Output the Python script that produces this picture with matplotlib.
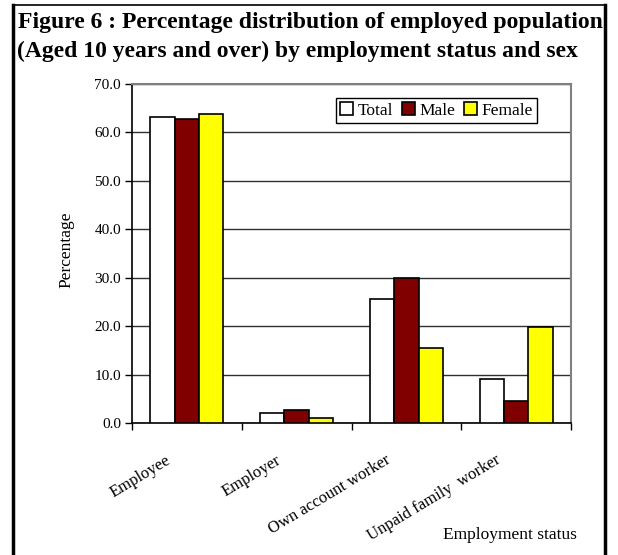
import matplotlib.pyplot as plt
import matplotlib.transforms as mtransforms
from matplotlib.lines import Line2D
import numpy as np

plt.rcParams['font.family'] = ['Liberation Serif', 'DejaVu Serif']

status = ["Employee", "Employer", "Own account worker", "Unpaid family  worker"]
total = [63.2, 2.0, 25.6, 9.1]
male = [62.8, 2.7, 30.0, 4.6]
female = [63.9, 1.0, 15.5, 19.8]

series = [("Total", total, "#FFFFFF"),
          ("Male", male, "#800000"),
          ("Female", female, "#FFFF00")]

fig = plt.figure(figsize=(6.18, 5.55), dpi=100)
ax = fig.add_axes([0.2136, 0.2378, 0.7104, 0.6108])

x = np.arange(len(status))
w = 1 / 4.5
for i, (name, vals, col) in enumerate(series):
    ax.bar(x + (i - 1) * w, vals, w, color=col, edgecolor="black",
           linewidth=1.2, label=name, zorder=3)

ax.set_xlim(-0.5, 3.5)
ax.set_ylim(0, 70)
ax.set_yticks(np.arange(0, 71, 10))
ax.set_yticklabels([f"{v:.1f}" for v in np.arange(0, 71, 10)], fontsize=11)
ax.yaxis.grid(True, color="#303030", linewidth=1)
ax.set_axisbelow(True)
ax.tick_params(axis="y", direction="out", length=5, width=1, pad=3)

# category separators as ticks, labels drawn separately
ax.set_xticks(np.arange(-0.5, 4, 1))
ax.set_xticklabels([])
ax.tick_params(axis="x", direction="out", length=5, width=1)

offset = mtransforms.ScaledTranslation(-13 / 100, -29 / 100, fig.dpi_scale_trans)
trans = ax.get_xaxis_transform() + offset
for xi, lab in zip(x, status):
    ax.text(xi, 0, lab, rotation=31, ha="right", va="top", fontsize=12,
            transform=trans)

for s in ("top", "right"):
    ax.spines[s].set_color("#808080")
    ax.spines[s].set_linewidth(1.5)
for s in ("left", "bottom"):
    ax.spines[s].set_linewidth(1.2)

ax.set_ylabel("Percentage", fontsize=12.5)
ax.yaxis.set_label_coords(-0.13, 0.51)

fig.text(577 / 618, 1 - 535 / 555, "Employment status", fontsize=12.5,
         ha="right", va="center")

leg = ax.legend(ncol=3, loc="upper left", bbox_to_anchor=(336 / 618, 1 - 98 / 555),
                bbox_transform=fig.transFigure, fontsize=12.5, frameon=True,
                fancybox=False, edgecolor="black", framealpha=1,
                handlelength=0.75, handleheight=0.75, handletextpad=0.25,
                columnspacing=0.5, borderpad=0.25, borderaxespad=0)
leg.get_frame().set_linewidth(1)

fig.text(18 / 618, 1 - 28 / 555, "Figure 6 : Percentage distribution of employed population",
         fontsize=17, fontweight="bold", ha="left", va="baseline")
fig.text(17 / 618, 1 - 57 / 555, "(Aged 10 years and over) by employment status and sex",
         fontsize=17, fontweight="bold", ha="left", va="baseline")

# outer frame
fig.add_artist(Line2D([13 / 618, 13 / 618], [0, 1 - 5 / 555], color="black", lw=2.5,
                      transform=fig.transFigure))
fig.add_artist(Line2D([605 / 618, 605 / 618], [0, 1 - 5 / 555], color="black", lw=2.5,
                      transform=fig.transFigure))
fig.add_artist(Line2D([13 / 618, 605 / 618], [1 - 5 / 555, 1 - 5 / 555], color="black",
                      lw=1.2, transform=fig.transFigure))

fig.savefig("out.png", dpi=100)
